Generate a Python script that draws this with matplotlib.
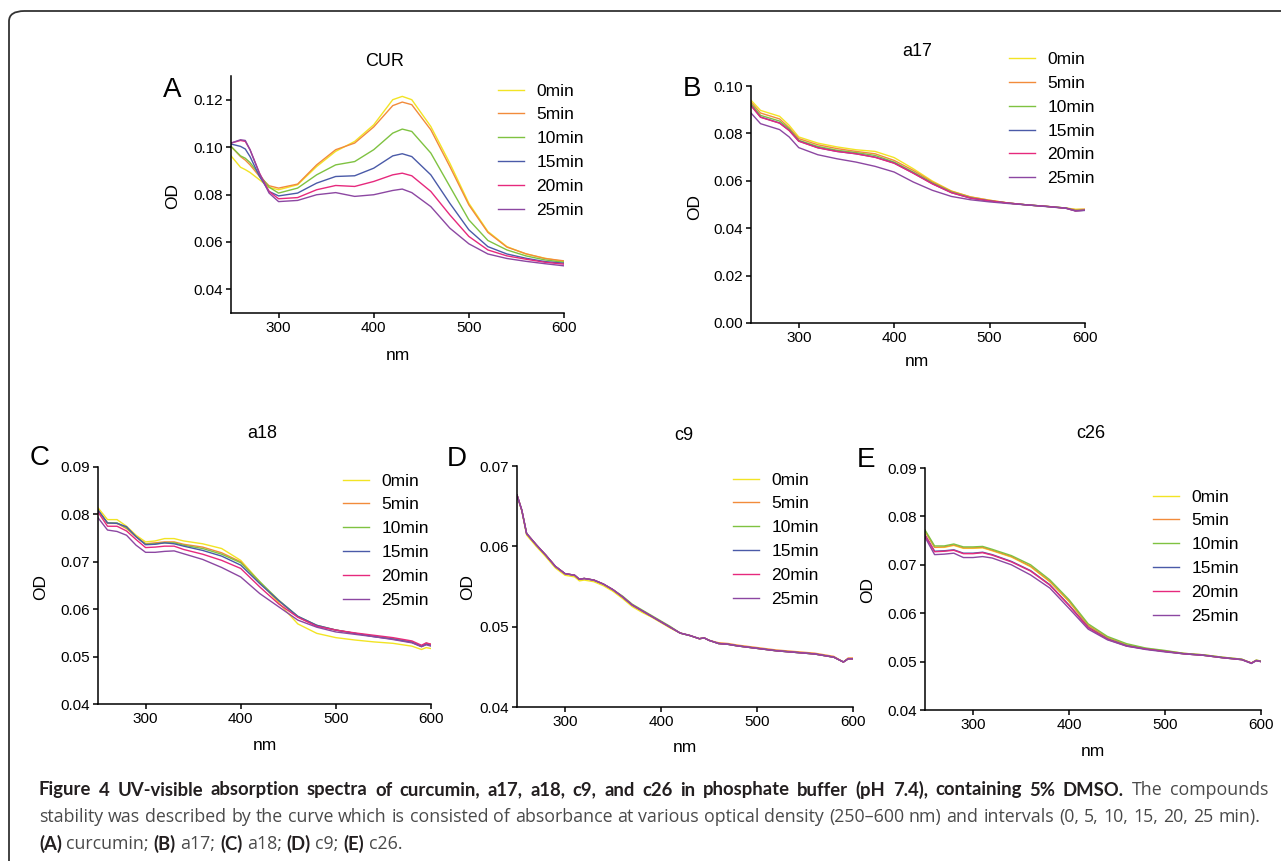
import matplotlib
matplotlib.use('Agg')
import matplotlib.pyplot as plt
from matplotlib.patches import FancyBboxPatch
from matplotlib.ticker import FormatStrFormatter

plt.rcParams['font.family'] = ['Liberation Sans', 'DejaVu Sans']

W, H = 1281, 861

times = ['0min', '5min', '10min', '15min', '20min', '25min']
colors = ['#f2e424', '#f28b3b', '#7fc241', '#4a5aa8', '#e6297d', '#8c47a2']

# ---- A: curcumin ----
wl_cur = [250, 260, 265, 270, 280, 290, 300, 320, 340, 360, 380, 400, 420, 430,
          440, 460, 480, 500, 520, 540, 560, 580, 600]
cur_0 = [0.0963, 0.0915, 0.0905, 0.0893, 0.0862, 0.0830, 0.0820, 0.0841, 0.0918,
         0.0982, 0.1024, 0.1094, 0.1200, 0.1214, 0.1200, 0.1087, 0.0932, 0.0763,
         0.0644, 0.0580, 0.0549, 0.0531, 0.0517]
cur_5 = [0.1003, 0.0960, 0.0945, 0.0925, 0.0876, 0.0837, 0.0827, 0.0844, 0.0925,
         0.0989, 0.1017, 0.1085, 0.1175, 0.1190, 0.1179, 0.1073, 0.0918, 0.0756,
         0.0640, 0.0578, 0.0550, 0.0530, 0.0520]
cur_10 = [0.1003, 0.0963, 0.0953, 0.0935, 0.0883, 0.0831, 0.0806, 0.0827, 0.0883,
          0.0925, 0.0939, 0.0989, 0.1059, 0.1076, 0.1066, 0.0975, 0.0834, 0.0693,
          0.0606, 0.0566, 0.0541, 0.0524, 0.0514]
cur_15 = [0.1013, 0.1003, 0.0992, 0.0960, 0.0876, 0.0813, 0.0794, 0.0806, 0.0848,
          0.0876, 0.0879, 0.0911, 0.0963, 0.0972, 0.0960, 0.0883, 0.0763, 0.0651,
          0.0580, 0.0549, 0.0531, 0.0517, 0.0510]
cur_20 = [0.1017, 0.1028, 0.1024, 0.0989, 0.0890, 0.0813, 0.0782, 0.0787, 0.0820,
          0.0838, 0.0834, 0.0855, 0.0883, 0.0890, 0.0879, 0.0813, 0.0714, 0.0623,
          0.0566, 0.0541, 0.0527, 0.0514, 0.0506]
cur_25 = [0.1017, 0.1031, 0.1028, 0.0989, 0.0887, 0.0806, 0.0770, 0.0775, 0.0799,
          0.0808, 0.0792, 0.0799, 0.0817, 0.0823, 0.0808, 0.0749, 0.0658, 0.0592,
          0.0549, 0.0530, 0.0518, 0.0508, 0.0499]

# ---- B: a17 ----
wl_a17 = [250, 260, 280, 290, 300, 320, 340, 360, 380, 400, 420, 440, 460, 480,
          500, 520, 540, 560, 580, 590, 600]
a17_0 = [0.0940, 0.0897, 0.0872, 0.0834, 0.0785, 0.0759, 0.0743, 0.0731, 0.0724,
         0.0698, 0.0651, 0.0599, 0.0557, 0.0532, 0.0518, 0.0506, 0.0498, 0.0492,
         0.0485, 0.0480, 0.0480]
a17_5 = [0.0932, 0.0886, 0.0861, 0.0824, 0.0778, 0.0752, 0.0736, 0.0724, 0.0714,
         0.0686, 0.0644, 0.0595, 0.0556, 0.0532, 0.0518, 0.0506, 0.0498, 0.0492,
         0.0485, 0.0478, 0.0480]
a17_10 = [0.0925, 0.0876, 0.0852, 0.0819, 0.0771, 0.0745, 0.0729, 0.0719, 0.0707,
          0.0679, 0.0637, 0.0591, 0.0553, 0.0529, 0.0515, 0.0506, 0.0498, 0.0492,
          0.0485, 0.0475, 0.0477]
a17_15 = [0.0918, 0.0869, 0.0844, 0.0813, 0.0768, 0.0740, 0.0724, 0.0714, 0.0700,
          0.0675, 0.0633, 0.0588, 0.0550, 0.0527, 0.0515, 0.0506, 0.0498, 0.0492,
          0.0485, 0.0473, 0.0475]
a17_20 = [0.0917, 0.0868, 0.0843, 0.0812, 0.0767, 0.0739, 0.0724, 0.0714, 0.0699,
          0.0674, 0.0632, 0.0587, 0.0550, 0.0527, 0.0515, 0.0506, 0.0498, 0.0492,
          0.0484, 0.0473, 0.0476]
a17_25 = [0.0886, 0.0841, 0.0816, 0.0785, 0.0740, 0.0710, 0.0693, 0.0679, 0.0661,
          0.0637, 0.0595, 0.0560, 0.0534, 0.0520, 0.0511, 0.0504, 0.0498, 0.0491,
          0.0484, 0.0473, 0.0476]

# ---- C: a18 ----
wl_a18 = [250, 260, 270, 280, 290, 300, 310, 320, 330, 340, 360, 380, 400, 420,
          440, 460, 480, 500, 520, 540, 560, 580, 590, 595, 600]
a18_0 = [0.0814, 0.0789, 0.0789, 0.0775, 0.0756, 0.0742, 0.0744, 0.0749, 0.0749,
         0.0744, 0.0738, 0.0728, 0.0703, 0.0658, 0.0613, 0.0569, 0.0549, 0.0540,
         0.0535, 0.0531, 0.0528, 0.0522, 0.0515, 0.0519, 0.0517]
a18_5 = [0.0810, 0.0781, 0.0781, 0.0770, 0.0753, 0.0738, 0.0740, 0.0742, 0.0742,
         0.0737, 0.0731, 0.0719, 0.0700, 0.0656, 0.0617, 0.0584, 0.0564, 0.0556,
         0.0549, 0.0543, 0.0538, 0.0531, 0.0522, 0.0528, 0.0526]
a18_10 = [0.0809, 0.0782, 0.0782, 0.0772, 0.0753, 0.0737, 0.0738, 0.0740, 0.0740,
          0.0735, 0.0728, 0.0716, 0.0698, 0.0658, 0.0619, 0.0585, 0.0566, 0.0556,
          0.0549, 0.0543, 0.0538, 0.0531, 0.0522, 0.0528, 0.0525]
a18_15 = [0.0809, 0.0782, 0.0781, 0.0774, 0.0753, 0.0736, 0.0737, 0.0740, 0.0738,
          0.0733, 0.0724, 0.0712, 0.0693, 0.0654, 0.0618, 0.0585, 0.0566, 0.0556,
          0.0549, 0.0542, 0.0537, 0.0530, 0.0521, 0.0526, 0.0524]
a18_20 = [0.0805, 0.0775, 0.0775, 0.0765, 0.0747, 0.0730, 0.0731, 0.0733, 0.0733,
          0.0726, 0.0716, 0.0703, 0.0686, 0.0647, 0.0611, 0.0583, 0.0564, 0.0556,
          0.0550, 0.0545, 0.0540, 0.0533, 0.0524, 0.0529, 0.0526]
a18_25 = [0.0793, 0.0767, 0.0764, 0.0756, 0.0735, 0.0720, 0.0720, 0.0722, 0.0723,
          0.0717, 0.0705, 0.0688, 0.0668, 0.0633, 0.0605, 0.0577, 0.0562, 0.0552,
          0.0547, 0.0542, 0.0536, 0.0529, 0.0521, 0.0525, 0.0522]

# ---- D: c9 ----
wl_c9 = [250, 255, 260, 270, 280, 290, 300, 310, 315, 320, 330, 340, 350, 360,
         370, 380, 390, 400, 410, 420, 430, 440, 445, 450, 460, 470, 480, 500,
         520, 540, 560, 580, 590, 595, 600]
c9_0 = [0.0664, 0.0644, 0.0614, 0.0600, 0.0587, 0.0573, 0.0564, 0.0562, 0.0557,
        0.0558, 0.0556, 0.0551, 0.0544, 0.0535, 0.0525, 0.0518, 0.0512, 0.0505,
        0.0498, 0.0492, 0.0489, 0.0485, 0.0486, 0.0483, 0.0479, 0.0478, 0.0476,
        0.0473, 0.0470, 0.0468, 0.0466, 0.0462, 0.0456, 0.0460, 0.0460]
c9_5 = [0.0664, 0.0645, 0.0616, 0.0602, 0.0589, 0.0575, 0.0566, 0.0564, 0.0559,
        0.0560, 0.0558, 0.0553, 0.0546, 0.0537, 0.0527, 0.0520, 0.0513, 0.0506,
        0.0499, 0.0492, 0.0489, 0.0485, 0.0486, 0.0483, 0.0480, 0.0479, 0.0477,
        0.0474, 0.0471, 0.0469, 0.0467, 0.0463, 0.0456, 0.0461, 0.0461]
c9_10 = [0.0664, 0.0645, 0.0616, 0.0602, 0.0589, 0.0575, 0.0566, 0.0564, 0.0559,
         0.0560, 0.0558, 0.0553, 0.0546, 0.0538, 0.0528, 0.0521, 0.0514, 0.0507,
         0.0500, 0.0492, 0.0489, 0.0485, 0.0486, 0.0483, 0.0479, 0.0478, 0.0476,
         0.0473, 0.0470, 0.0468, 0.0466, 0.0462, 0.0456, 0.0460, 0.0460]
c9_15 = [0.0664, 0.0645, 0.0616, 0.0602, 0.0589, 0.0575, 0.0566, 0.0564, 0.0559,
         0.0560, 0.0558, 0.0553, 0.0546, 0.0537, 0.0527, 0.0520, 0.0513, 0.0506,
         0.0499, 0.0492, 0.0489, 0.0485, 0.0486, 0.0483, 0.0479, 0.0478, 0.0476,
         0.0473, 0.0470, 0.0468, 0.0466, 0.0462, 0.0456, 0.0460, 0.0460]
c9_20 = [0.0664, 0.0645, 0.0616, 0.0602, 0.0589, 0.0575, 0.0566, 0.0564, 0.0559,
         0.0560, 0.0558, 0.0553, 0.0546, 0.0537, 0.0527, 0.0520, 0.0513, 0.0506,
         0.0499, 0.0492, 0.0489, 0.0485, 0.0486, 0.0483, 0.0479, 0.0478, 0.0476,
         0.0473, 0.0470, 0.0468, 0.0466, 0.0462, 0.0456, 0.0460, 0.0460]
c9_25 = [0.0664, 0.0645, 0.0616, 0.0602, 0.0589, 0.0575, 0.0566, 0.0564, 0.0559,
         0.0560, 0.0558, 0.0553, 0.0546, 0.0537, 0.0527, 0.0520, 0.0513, 0.0506,
         0.0499, 0.0492, 0.0489, 0.0485, 0.0486, 0.0483, 0.0479, 0.0478, 0.0476,
         0.0473, 0.0470, 0.0468, 0.0466, 0.0462, 0.0456, 0.0460, 0.0460]

# ---- E: c26 ----
wl_c26 = [250, 260, 270, 280, 290, 300, 310, 320, 340, 360, 380, 400, 420, 440,
          460, 480, 500, 520, 540, 560, 580, 590, 595, 600]
c26_0 = [0.0769, 0.0736, 0.0736, 0.0740, 0.0734, 0.0734, 0.0735, 0.0729, 0.0716,
         0.0696, 0.0665, 0.0624, 0.0574, 0.0548, 0.0533, 0.0526, 0.0521, 0.0516,
         0.0513, 0.0508, 0.0504, 0.0497, 0.0502, 0.0500]
c26_5 = [0.0770, 0.0736, 0.0737, 0.0741, 0.0735, 0.0735, 0.0736, 0.0730, 0.0717,
         0.0697, 0.0666, 0.0625, 0.0575, 0.0550, 0.0535, 0.0527, 0.0522, 0.0517,
         0.0514, 0.0509, 0.0505, 0.0497, 0.0503, 0.0501]
c26_10 = [0.0772, 0.0739, 0.0739, 0.0743, 0.0737, 0.0737, 0.0738, 0.0732, 0.0719,
          0.0700, 0.0669, 0.0628, 0.0578, 0.0552, 0.0537, 0.0528, 0.0523, 0.0517,
          0.0514, 0.0509, 0.0505, 0.0497, 0.0503, 0.0501]
c26_15 = [0.0762, 0.0728, 0.0729, 0.0731, 0.0724, 0.0724, 0.0726, 0.0721, 0.0707,
          0.0688, 0.0659, 0.0617, 0.0571, 0.0547, 0.0533, 0.0526, 0.0521, 0.0516,
          0.0513, 0.0508, 0.0504, 0.0497, 0.0502, 0.0500]
c26_20 = [0.0761, 0.0727, 0.0728, 0.0730, 0.0723, 0.0723, 0.0725, 0.0720, 0.0706,
          0.0687, 0.0658, 0.0616, 0.0570, 0.0546, 0.0532, 0.0526, 0.0521, 0.0516,
          0.0513, 0.0508, 0.0504, 0.0497, 0.0502, 0.0500]
c26_25 = [0.0757, 0.0721, 0.0722, 0.0724, 0.0715, 0.0715, 0.0717, 0.0714, 0.0700,
          0.0679, 0.0652, 0.0610, 0.0567, 0.0545, 0.0532, 0.0525, 0.0520, 0.0516,
          0.0513, 0.0508, 0.0504, 0.0496, 0.0502, 0.0500]

panels = [
    # letter, title, wl, series, ylim, yticks, axes box px (l, t, r, b)
    ('A', 'CUR', wl_cur, [cur_0, cur_5, cur_10, cur_15, cur_20, cur_25],
     (0.03, 0.13), [0.04, 0.06, 0.08, 0.10, 0.12], (231, 76, 564, 313)),
    ('B', 'a17', wl_a17, [a17_0, a17_5, a17_10, a17_15, a17_20, a17_25],
     (0.0, 0.10), [0.0, 0.02, 0.04, 0.06, 0.08, 0.10], (751, 86, 1085, 323)),
    ('C', 'a18', wl_a18, [a18_0, a18_5, a18_10, a18_15, a18_20, a18_25],
     (0.04, 0.09), [0.04, 0.05, 0.06, 0.07, 0.08, 0.09], (98, 467, 431, 704)),
    ('D', 'c9', wl_c9, [c9_0, c9_5, c9_10, c9_15, c9_20, c9_25],
     (0.04, 0.07), [0.04, 0.05, 0.06, 0.07], (517, 466, 853, 707)),
    ('E', 'c26', wl_c26, [c26_0, c26_5, c26_10, c26_15, c26_20, c26_25],
     (0.04, 0.09), [0.04, 0.05, 0.06, 0.07, 0.08, 0.09], (925, 468, 1261, 710)),
]

# label positions in px: letter, title, OD label, nm label, legend (handle left, top)
letter_pos = [(172, 90), (692, 89), (40, 458), (457, 459), (866, 460)]
title_pos = [(385, 62), (917, 52), (262, 433), (684, 436), (1091, 434)]
od_pos = [(173, 196), (695, 207), (41, 587), (468, 587), (868, 590)]
nm_pos = [(398, 356), (917, 362), (265, 745), (685, 748), (1093, 751)]
leg_pos = [(498, 83.5), (1009, 52), (343, 473.5), (733, 472.5), (1153, 489.5)]


def fx(x):
    return x / W


def fy(y):
    return 1 - y / H


fig = plt.figure(figsize=(W / 100, H / 100), dpi=100)

# rounded frame (only the left and top edges fall inside the picture)
frame = FancyBboxPatch((fx(9), fy(880)), fx(1310) - fx(9), fy(11) - fy(880),
                       boxstyle='round,pad=0,rounding_size=0.012',
                       transform=fig.transFigure, facecolor='none',
                       edgecolor='#333333', linewidth=1.3, clip_on=False)
fig.patches.append(frame)

for i, (letter, title, wl, series, ylim, yticks, box) in enumerate(panels):
    l, t, r, b = box
    ax = fig.add_axes([fx(l), fy(b), fx(r) - fx(l), fy(t) - fy(b)])
    for s, c, lab in zip(series, colors, times):
        ax.plot(wl, s, color=c, lw=1.0, label=lab)
    ax.set_xlim(250, 600)
    ax.set_ylim(*ylim)
    ax.set_xticks([300, 400, 500, 600])
    ax.set_yticks(yticks)
    ax.yaxis.set_major_formatter(FormatStrFormatter('%.2f'))
    for sp in ['top', 'right']:
        ax.spines[sp].set_visible(False)
    for sp in ['left', 'bottom']:
        ax.spines[sp].set_linewidth(1.1)
    ax.tick_params(direction='out', length=3.8, width=1.1, labelsize=11, pad=2)
    ax.patch.set_alpha(0)

    lx, ly = leg_pos[i]
    ax.legend(loc='upper left', bbox_to_anchor=(fx(lx), fy(ly)),
              bbox_transform=fig.transFigure, frameon=False, fontsize=12.5,
              handlelength=1.5, handletextpad=0.72, labelspacing=0.5,
              borderpad=0, borderaxespad=0)

    fig.text(fx(letter_pos[i][0]), fy(letter_pos[i][1]), letter, fontsize=20,
             ha='center', va='center')
    fig.text(fx(title_pos[i][0]), fy(title_pos[i][1]), title, fontsize=13,
             ha='center', va='center')
    fig.text(fx(od_pos[i][0]), fy(od_pos[i][1]), 'OD', fontsize=12.5,
             ha='center', va='center', rotation=90)
    fig.text(fx(nm_pos[i][0]), fy(nm_pos[i][1]), 'nm', fontsize=12.5,
             ha='center', va='center')

# caption, justified like the journal layout
fam_normal = ['Open Sans', 'DejaVu Sans']
fam_bold = ['Lato', 'DejaVu Sans']
cap_size = 12.8
dark = '#231f20'
grey = '#4a4a4a'
cap_lines = [
    ([('Figure 4 UV-visible absorption spectra of curcumin, a17, a18, c9, and c26 '
       'in phosphate buffer (pH 7.4), containing 5% DMSO.', 'bold', dark),
      ('The compounds', 'normal', grey)], 790, 1268),
    ([('stability was described by the curve which is consisted of absorbance at '
       'various optical density (250\u2013600 nm) and intervals (0, 5, 10, 15, 20, 25 min).',
       'normal', grey)], 817, 1260),
    ([('(A)', 'bold', dark), ('curcumin;', 'normal', grey), ('(B)', 'bold', dark),
      ('a17;', 'normal', grey), ('(C)', 'bold', dark), ('a18;', 'normal', grey),
      ('(D)', 'bold', dark), ('c9;', 'normal', grey), ('(E)', 'bold', dark),
      ('c26.', 'normal', grey)], 844, None),
]
x_start = 39
renderer = fig.canvas.get_renderer()
space_px = 0.26 * cap_size * 100 / 72
for runs, ypx, x_end in cap_lines:
    words = []
    for text, weight, color in runs:
        for w in text.split(' '):
            if w:
                words.append((w, weight, color))
    objs = []
    widths = []
    for w, weight, color in words:
        fam = fam_bold if weight == 'bold' else fam_normal
        size = cap_size * 1.04 if weight == 'bold' else cap_size
        t = fig.text(0, fy(ypx), w, fontsize=size, fontweight=weight,
                     color=color, family=fam, va='center', ha='left')
        objs.append(t)
        widths.append(t.get_window_extent(renderer).width)
    if x_end is not None:
        gap = max((x_end - x_start - sum(widths)) / (len(words) - 1), space_px * 0.8)
    else:
        gap = space_px
    x = x_start
    for t, wd in zip(objs, widths):
        t.set_x(fx(x))
        x += wd + gap

fig.savefig('out.png', dpi=100)
